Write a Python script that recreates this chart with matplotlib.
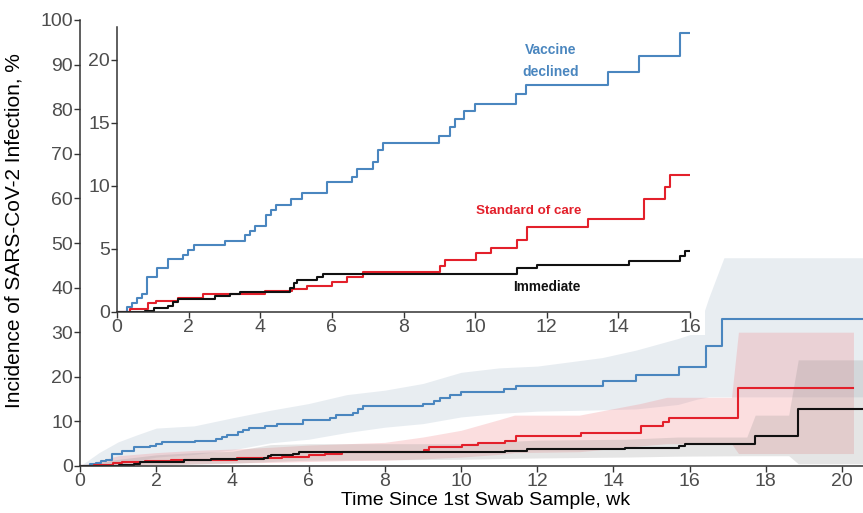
import matplotlib
matplotlib.use('Agg')
import matplotlib.pyplot as plt
from matplotlib.patches import Rectangle

plt.rcParams['font.family'] = ['Liberation Sans', 'DejaVu Sans']

# Cumulative incidence (step curves), weeks vs %
blue_t = [0, 0.27, 0.41, 0.55, 0.69, 0.83, 1.11, 1.43, 1.83, 1.99, 2.15, 3.02, 3.58, 3.72,
          3.85, 4.15, 4.29, 4.43, 4.86, 5.16, 5.86, 6.57, 6.71, 7.16, 7.30, 7.44, 9.0, 9.30,
          9.44, 9.70, 10.0, 11.13, 11.43, 13.72, 14.58, 15.71, 16.42, 16.86]
blue_y = [0, 0.42, 0.69, 1.09, 1.43, 2.8, 3.47, 4.18, 4.52, 4.92, 5.29, 5.66, 6.11, 6.45,
          6.85, 7.7, 8.1, 8.5, 8.97, 9.42, 10.34, 10.74, 11.35, 11.88, 12.86, 13.39, 13.97, 14.66,
          15.29, 15.95, 16.5, 17.3, 18.0, 19.0, 20.3, 22.1, 26.9, 33.0]

red_t = [0, 0.36, 0.87, 1.1, 1.7, 2.4, 4.13, 4.88, 5.30, 6.0, 6.43, 6.88, 9.02, 9.15,
         10.03, 10.44, 11.16, 11.44, 13.15, 14.72, 15.29, 15.45, 17.28]
red_y = [0, 0.21, 0.69, 0.9, 1.09, 1.43, 1.69, 1.8, 2.06, 2.4, 2.8, 3.2, 3.65, 4.15,
         4.66, 5.1, 5.71, 6.72, 7.38, 8.97, 9.9, 10.85, 17.6]

black_t = [0, 0.78, 1.02, 1.43, 1.57, 1.71, 2.74, 3.16, 3.44, 4.83, 4.93, 5.02, 5.58, 5.76,
           11.16, 11.72, 14.31, 15.73, 15.87, 17.72, 18.85]
black_y = [0, 0.1, 0.29, 0.48, 0.82, 1.0, 1.27, 1.43, 1.61, 1.88, 2.28, 2.55, 2.8, 3.05,
           3.47, 3.73, 4.07, 4.44, 4.84, 6.8, 12.7]

# 95% CI bands (main panel only)
blue_ci_t = [0, 0.5, 1.0, 1.5, 2.0, 3.0, 4.0, 5.0, 6.0, 7.0, 8.0, 9.0, 10.0, 11.0, 12.0,
             13.7, 14.6, 15.7, 16.2, 16.5, 16.9, 20.6]
blue_lo = [0, 0, 0.3, 1.2, 2.0, 2.6, 3.6, 5.2, 6.0, 7.5, 8.7, 9.5, 11.0, 11.8, 12.3,
           12.6, 12.8, 13.8, 15.0, 15.5, 15.5, 15.5]
blue_hi = [0, 3.0, 5.4, 7.0, 8.5, 9.0, 10.8, 12.5, 14.0, 16.0, 17.0, 18.5, 21.0, 22.0, 22.4,
           24.3, 26.0, 28.6, 30.0, 37.7, 46.7, 46.7]

red_ci_t = [0, 1, 2, 3, 4, 5, 6, 7, 8, 9, 10, 11, 11.4, 13.1, 14.7, 15.4, 17.1, 17.28, 20.3]
red_lo = [0, 0, 0.2, 0.5, 0.7, 0.8, 1.0, 1.2, 1.3, 1.6, 2.0, 2.6, 3.0, 3.2, 4.5, 5.0, 5.0, 2.8, 2.8]
red_hi = [0, 2.3, 3.0, 3.5, 3.8, 4.2, 4.7, 5.0, 5.3, 6.5, 8.0, 10.4, 11.4, 11.4, 14.0, 15.4,
          15.4, 30.0, 30.0]

black_ci_t = [0, 1, 2, 3, 4, 5, 6, 8, 10, 11.2, 12, 14.3, 15.7, 17.5, 17.72, 18.6, 18.85, 20.6]
black_lo = [0, 0, 0.2, 0.4, 0.6, 1.0, 1.3, 1.4, 1.5, 1.7, 1.8, 2.0, 2.2, 2.3, 2.3, 2.3, 0.5, 0.5]
black_hi = [0, 1.5, 2.5, 3.0, 3.3, 4.8, 5.0, 5.0, 5.0, 5.5, 5.8, 6.0, 6.5, 6.5, 11.4, 11.4,
            23.8, 23.8]

BLUE = '#4a86bf'
RED = '#e3202b'
BLACK = '#111111'
AXC = '#333333'
TXC = '#4d4d4d'


def extend(t, y, end):
    # keep points before `end`, then hold the last value out to `end`
    tt = [v for v in t if v < end]
    yy = list(y[:len(tt)])
    return tt + [end], yy + [yy[-1]]


def style(ax, size):
    for s in ['top', 'right']:
        ax.spines[s].set_visible(False)
    for s in ['left', 'bottom']:
        ax.spines[s].set_color(AXC)
        ax.spines[s].set_linewidth(1.1)
    ax.tick_params(colors=AXC, labelcolor=TXC, labelsize=size, length=4, width=1, pad=1)


fig = plt.figure(figsize=(8.63, 5.13), dpi=100)
ax = fig.add_axes([80 / 863, 47 / 513, 783 / 863, 446 / 513])

# main panel: bands then lines
for t, lo, hi, col, a in [(blue_ci_t, blue_lo, blue_hi, '#b8c8d6', 0.32),
                          (red_ci_t, red_lo, red_hi, '#f28a8f', 0.28),
                          (black_ci_t, black_lo, black_hi, '#8c8c8c', 0.22)]:
    ax.fill_between(t, lo, hi, color=col, alpha=a, lw=0)

for t, y, end, col in [(blue_t, blue_y, 20.6, BLUE), (red_t, red_y, 20.3, RED),
                       (black_t, black_y, 20.6, BLACK)]:
    tt, yy = extend(t, y, end)
    ax.step(tt, yy, where='post', color=col, lw=1.5)

ax.set_xlim(0, 20.55)
ax.set_ylim(0, 100)
ax.set_xticks(range(0, 21, 2))
ax.set_yticks(range(0, 101, 10))
style(ax, 14)
ax.set_xlabel('Time Since 1st Swab Sample, wk', fontsize=14)
ax.set_ylabel('Incidence of SARS-CoV-2 Infection, %', fontsize=15)
ax.xaxis.set_label_coords(0.518, -0.058)
ax.yaxis.set_label_coords(-0.072, 0.529)

# white backing for the inset and its tick labels
ax.add_patch(Rectangle((0.3, 29.4), 16.1, 71, facecolor='white', edgecolor='none', zorder=5))

# inset: first 16 weeks, zoomed
ins = fig.add_axes([117 / 863, 201 / 513, 573 / 863, 285 / 513])
ins.patch.set_alpha(0)
for t, y, col in [(blue_t, blue_y, BLUE), (red_t, red_y, RED), (black_t, black_y, BLACK)]:
    tt, yy = extend(t, y, 16)
    ins.step(tt, yy, where='post', color=col, lw=1.5)
ins.set_xlim(0, 16)
ins.set_ylim(0, 22.6)
ins.set_xticks(range(0, 17, 2))
ins.set_yticks(range(0, 21, 5))
style(ins, 14)

ins.text(12.1, 19.9, 'Vaccine\ndeclined', color=BLUE, fontsize=10, fontweight='bold',
         ha='center', va='center', linespacing=1.75)
ins.text(11.5, 8.0, 'Standard of care', color=RED, fontsize=9.6, fontweight='bold',
         ha='center', va='center')
ins.text(12.0, 2.0, 'Immediate', color=BLACK, fontsize=9.8, fontweight='bold',
         ha='center', va='center')

fig.savefig('out.png', dpi=100)
